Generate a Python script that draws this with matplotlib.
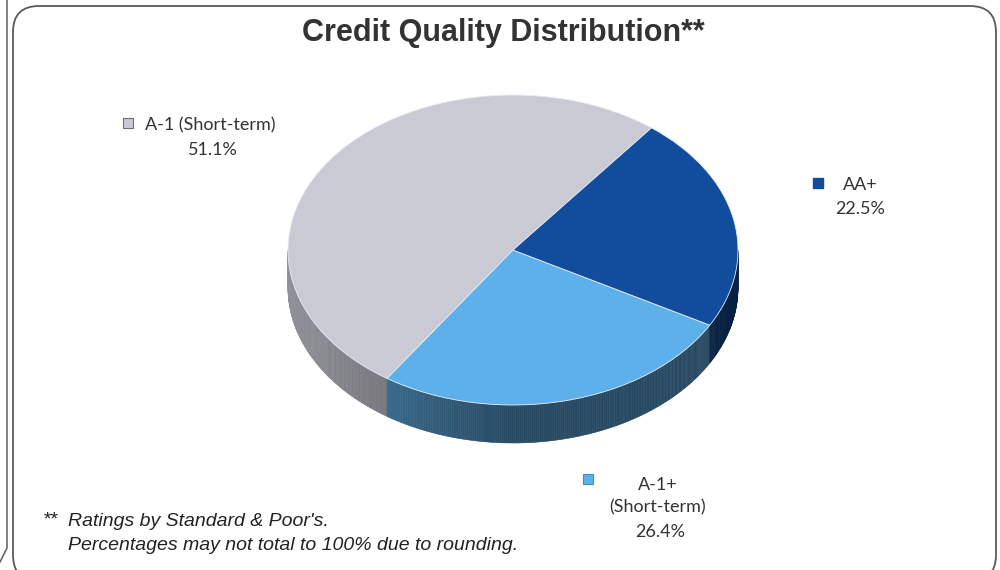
import numpy as np
import matplotlib.pyplot as plt
from matplotlib.patches import FancyBboxPatch
from matplotlib.collections import PolyCollection
from matplotlib.colors import to_rgb

labels = ["A-1 (Short-term)", "A-1+\n(Short-term)", "AA+"]
shares = [51.1, 26.4, 22.5]
colors = ["#c9cad4", "#5eb0ea", "#124c9c"]

title = "Credit Quality Distribution**"
notes = ["Ratings by Standard & Poor's.",
         "Percentages may not total to 100% due to rounding."]

fig = plt.figure(figsize=(10, 5.7), dpi=100)

# background axes in pixel units, used for frame and texts
bg = fig.add_axes([0, 0, 1, 1])
bg.set_xlim(0, 1000)
bg.set_ylim(570, 0)
bg.axis("off")

frame = FancyBboxPatch((13, 6), 983, 575, boxstyle="round,pad=0,rounding_size=26",
                       fc="white", ec="#5a5a5a", lw=1.3)
bg.add_patch(frame)
bg.plot([7, 7, 0], [0, 548, 562], color="#6a6a6a", lw=1.2)

bg.text(503, 33, title, ha="center", va="center", fontsize=22,
        fontweight="bold", family="Liberation Sans", color="#333333")

# pie axes: unit circle stretched into the tilted ellipse
ax = fig.add_axes([0.27675, 0.1807, 0.4725, 0.6662])
wedges, _ = ax.pie(shares, colors=colors, startangle=52, counterclock=True,
                   wedgeprops=dict(linewidth=0.6, edgecolor="#e6edf5"))
ax.set_aspect("auto")
ax.set_xlim(-1.05, 1.05)
ax.set_ylim(-1.4, 1.05)
ax.axis("off")
for w in wedges:
    w.set_zorder(3)

# side wall of the disc (front half only)
depth = 0.245
polys, fcs = [], []
for w, c in zip(wedges, colors):
    base = np.array(to_rgb(c))
    for shift in (-360, 0, 360):
        a0 = max(w.theta1 + shift, 180)
        a1 = min(w.theta2 + shift, 360)
        if a1 <= a0:
            continue
        ts = np.linspace(a0, a1, max(int((a1 - a0) * 2), 2))
        for ta, tb in zip(ts[:-1], ts[1:]):
            ra, rb = np.radians(ta), np.radians(tb)
            polys.append([(np.cos(ra), np.sin(ra)), (np.cos(rb), np.sin(rb)),
                          (np.cos(rb), np.sin(rb) - depth), (np.cos(ra), np.sin(ra) - depth)])
            tm = np.radians((ta + tb) / 2)
            f = 0.42 + 0.3 * max(0.0, -np.cos(tm))
            fcs.append(np.clip(base * f, 0, 1))
wall = PolyCollection(polys, facecolors=fcs, edgecolors=fcs, linewidths=0.4, zorder=2)
ax.add_collection(wall)

# category labels with small colour keys
font = dict(family="Lato", fontsize=13, color="#333333")
bg.plot(128, 123, marker="s", ms=7, mfc=colors[0], mec="#707070", mew=0.8)
bg.text(210, 125, labels[0], ha="center", va="center", **font)
bg.text(213, 150, f"{shares[0]:.1f}%", ha="center", va="center", **font)

bg.plot(818, 183, marker="s", ms=7, mfc=colors[2], mec=colors[2])
bg.text(860, 185, labels[2], ha="center", va="center", **font)
bg.text(860, 209, f"{shares[2]:.1f}%", ha="center", va="center", **font)

bg.plot(588, 479, marker="s", ms=7, mfc=colors[1], mec="#3f8ccc", mew=0.8)
bg.text(658, 496, labels[1], ha="center", va="center", linespacing=1.45, **font)
bg.text(660, 532, f"{shares[1]:.1f}%", ha="center", va="center", **font)

# footnote
note_font = dict(family="Liberation Sans", fontsize=14, style="italic", color="#222222")
bg.text(43, 520, "**", ha="left", va="center", **note_font)
bg.text(68, 522, notes[0], ha="left", va="center", **note_font)
bg.text(68, 546, notes[1], ha="left", va="center", **note_font)

fig.savefig("out.png", dpi=100, facecolor="white")
